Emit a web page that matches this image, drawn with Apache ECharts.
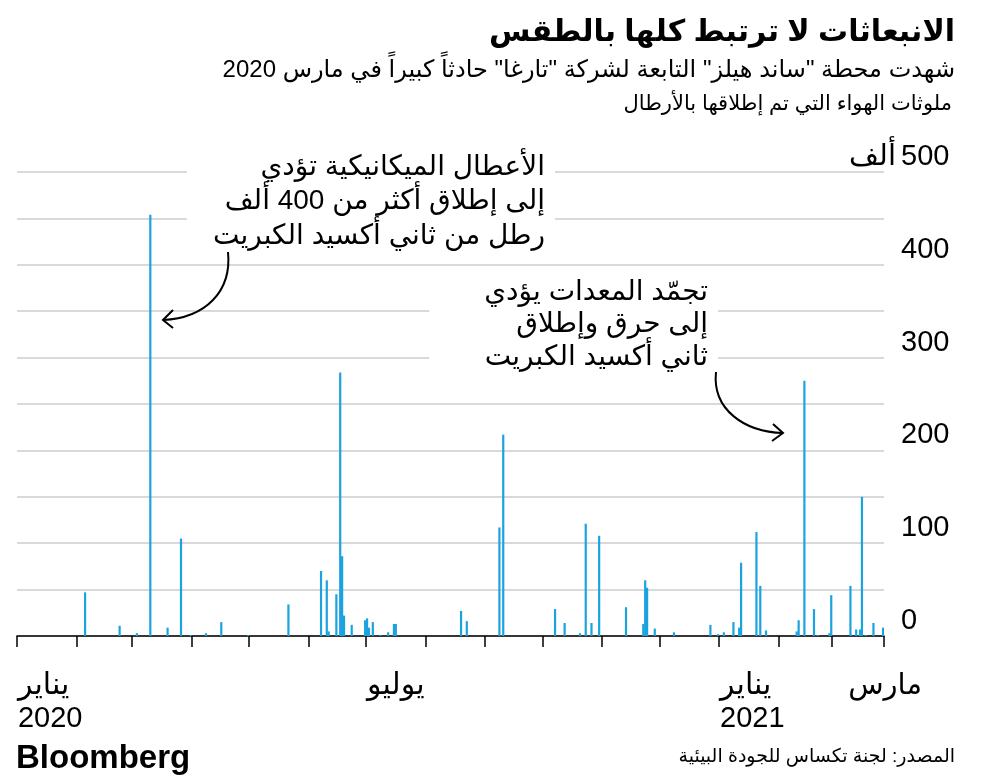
<!DOCTYPE html>
<html>
<head>
<meta charset="utf-8">
<script src="https://cdn.jsdelivr.net/npm/echarts@6/dist/echarts.min.js"></script>
<style>
html, body { margin: 0; padding: 0; background: #fff; }
#chart { width: 981px; height: 778px; }
</style>
</head>
<body>
<div id="chart"></div>
<script>
// daily axis range
var startDate = '2020-01-01';
var endDate = '2021-03-27';

// days with releases, thousand lbs (every other day is 0)
var eventDates = [
    '2020-02-05', '2020-02-23', '2020-03-03', '2020-03-10', '2020-03-19', '2020-03-26', '2020-03-31',
    '2020-04-08', '2020-04-16', '2020-04-30', '2020-05-21', '2020-06-07', '2020-06-10', '2020-06-11',
    '2020-06-15', '2020-06-17', '2020-06-18', '2020-06-19', '2020-06-23', '2020-06-30', '2020-07-01',
    '2020-07-02', '2020-07-04', '2020-07-08', '2020-07-12', '2020-07-15', '2020-07-16', '2020-08-19',
    '2020-08-22', '2020-09-08', '2020-09-10', '2020-10-07', '2020-10-12', '2020-10-20', '2020-10-23',
    '2020-10-26', '2020-10-30', '2020-11-13', '2020-11-22', '2020-11-23', '2020-11-24', '2020-11-28',
    '2020-12-08', '2020-12-27', '2020-12-31', '2021-01-03', '2021-01-08', '2021-01-11', '2021-01-12',
    '2021-01-20', '2021-01-22', '2021-01-25', '2021-02-10', '2021-02-11', '2021-02-14', '2021-02-19',
    '2021-02-21', '2021-02-27', '2021-02-28', '2021-03-10', '2021-03-13', '2021-03-15', '2021-03-16',
    '2021-03-18', '2021-03-22', '2021-03-27'
];
var eventValues = [
    47, 11, 3, 454, 9, 105, 1,
    3, 15, 1, 34, 70, 60, 5,
    45, 284, 86, 22, 12, 17, 19,
    9, 15, 1, 4, 13, 13, 27,
    16, 117, 217, 29, 14, 3, 121,
    14, 108, 31, 13, 60, 52, 8,
    4, 12, 2, 4, 15, 9, 79,
    112, 54, 6, 5, 17, 275, 29,
    1, 3, 44, 54, 7, 7, 150,
    1, 14, 9
];

// x tick labels
var labelDates = ['2020-01-01', '2020-07-01', '2021-01-01', '2021-03-01'];
var labelMonths = ['يناير', 'يوليو', 'يناير', 'مارس'];
var labelYears = ['2020', '', '2021', ''];

var yUnit = 'ألف';

var title = 'الانبعاثات لا ترتبط كلها بالطقس';
var subtitle = 'شهدت محطة "ساند هيلز" التابعة لشركة "تارغا" حادثاً كبيراً في مارس 2020';
var yTitle = 'ملوثات الهواء التي تم إطلاقها بالأرطال';
var note1 = 'الأعطال الميكانيكية تؤدي\nإلى إطلاق أكثر من 400 ألف\nرطل من ثاني أكسيد الكبريت';
var note2 = 'تجمّد المعدات يؤدي\nإلى حرق وإطلاق\nثاني أكسيد الكبريت';
var source = 'المصدر: لجنة تكساس للجودة البيئية';

var FONT = "'Liberation Sans', 'DejaVu Sans', sans-serif";

function fmt(d) { return d.toISOString().slice(0, 10); }

var days = [];
for (var d = new Date(startDate + 'T00:00:00Z'); fmt(d) <= endDate; d.setUTCDate(d.getUTCDate() + 1)) {
    days.push(fmt(d));
}
var values = days.map(function (day) {
    var i = eventDates.indexOf(day);
    return i < 0 ? 0 : eventValues[i];
});

var chart = echarts.init(document.getElementById('chart'), null, { renderer: 'canvas' });

chart.setOption({
    animation: false,
    backgroundColor: '#fff',
    textStyle: { fontFamily: FONT },
    grid: { left: 17, right: 97, top: 172, bottom: 142 },
    xAxis: {
        type: 'category',
        data: days,
        axisLine: { lineStyle: { color: '#000', width: 1.5 } },
        axisTick: {
            show: true,
            length: 11,
            lineStyle: { color: '#000', width: 1.5 },
            interval: function (idx, val) { return String(val).slice(8) === '01'; }
        },
        axisLabel: {
            interval: function (idx, val) { return labelDates.indexOf(val) >= 0; },
            formatter: function (val) {
                var i = labelDates.indexOf(val);
                var st = val === '2021-03-01' ? 'r' : (val === '2020-07-01' ? 'j' : 'm');
                var txt = '{' + st + '|' + labelMonths[i] + '}';
                if (labelYears[i]) txt += '\n{y|' + labelYears[i] + '}';
                return txt;
            },
            align: 'left',
            color: '#000',
            margin: 33,
            rich: {
                m: { fontSize: 30, lineHeight: 33, color: '#000' },
                j: { fontSize: 30, lineHeight: 33, color: '#000', padding: [0, 0, 0, 0] },
                r: { fontSize: 29, lineHeight: 33, color: '#000', padding: [0, 0, 0, 15] },
                y: { fontSize: 29, lineHeight: 33, color: '#000' }
            }
        }
    },
    yAxis: {
        type: 'value',
        position: 'right',
        min: 0,
        max: 500,
        interval: 50,
        axisLine: { show: false },
        axisTick: { show: false },
        splitLine: { lineStyle: { color: '#cccccc', width: 1.5 } },
        axisLabel: {
            formatter: function (v) { return v % 100 === 0 ? String(v) : ''; },
            color: '#000',
            fontSize: 29,
            lineHeight: 30,
            align: 'left',
            verticalAlign: 'bottom',
            margin: 17
        }
    },
    series: [{
        type: 'bar',
        data: values,
        barWidth: 2.2,
        itemStyle: { color: '#1ba3e0' },
        silent: true
    }],
    graphic: [
        { type: 'text', z: 100, x: 955, y: 33,
          style: { text: title, align: 'right', verticalAlign: 'middle', font: 'bold 30px ' + FONT, fill: '#000' } },
        { type: 'text', z: 100, x: 955, y: 70,
          style: { text: subtitle, align: 'right', verticalAlign: 'middle', font: '24px ' + FONT, fill: '#000' } },
        { type: 'text', z: 100, x: 952, y: 104,
          style: { text: yTitle, align: 'right', verticalAlign: 'middle', font: '21px ' + FONT, fill: '#000' } },
        { type: 'text', z: 100, x: 896, y: 157,
          style: { text: yUnit, align: 'right', verticalAlign: 'middle', font: '29px ' + FONT, fill: '#000' } },
        { type: 'text', z: 100, x: 555, y: 148,
          style: { text: note1, align: 'right', verticalAlign: 'top', font: '28px ' + FONT, lineHeight: 34.5,
                   fill: '#000', backgroundColor: '#fff', padding: [2, 10, 4, 26] } },
        { type: 'text', z: 100, x: 718, y: 274,
          style: { text: note2, align: 'right', verticalAlign: 'top', font: '28px ' + FONT, lineHeight: 32.5,
                   fill: '#000', backgroundColor: '#fff', padding: [2, 10, 2, 55] } },
        { type: 'bezierCurve', z: 101,
          shape: { x1: 228, y1: 252, cpx1: 232, cpy1: 292, cpx2: 205, cpy2: 318, x2: 163, y2: 320 },
          style: { stroke: '#000', lineWidth: 2, fill: null } },
        { type: 'polyline', z: 101,
          shape: { points: [[173, 310], [163, 320], [173, 328]] },
          style: { stroke: '#000', lineWidth: 2, fill: null } },
        { type: 'bezierCurve', z: 101,
          shape: { x1: 716, y1: 372, cpx1: 712, cpy1: 410, cpx2: 745, cpy2: 432, x2: 783, y2: 433 },
          style: { stroke: '#000', lineWidth: 2, fill: null } },
        { type: 'polyline', z: 101,
          shape: { points: [[773, 424], [783, 433], [772, 441]] },
          style: { stroke: '#000', lineWidth: 2, fill: null } },
        { type: 'text', z: 100, x: 16, y: 759,
          style: { text: 'Bloomberg', align: 'left', verticalAlign: 'middle', font: '900 33px ' + FONT, fill: '#000' } },
        { type: 'text', z: 100, x: 955, y: 757,
          style: { text: source, align: 'right', verticalAlign: 'middle', font: '19px ' + FONT, fill: '#000' } }
    ]
});
</script>
</body>
</html>
